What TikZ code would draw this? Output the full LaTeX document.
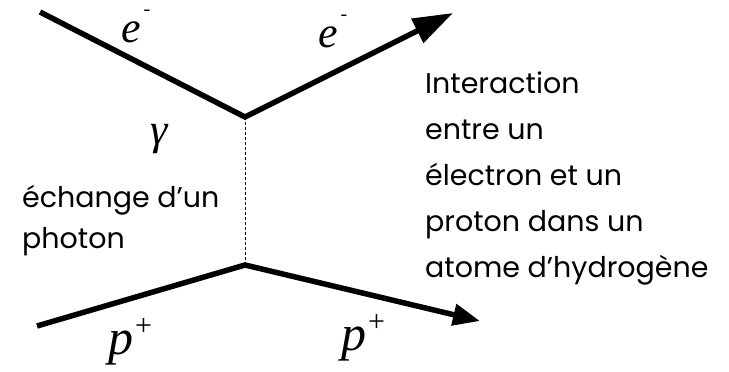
\documentclass[tikz,border=0pt]{standalone}
\usepackage{fontspec}
\setmainfont{Poppins}
\newfontfamily\serifit{Liberation Serif}
\usetikzlibrary{arrows.meta}
\tikzset{
  particle/.style={line width=5.5pt, line join=miter},
  photonline/.style={line width=0.9pt, dash pattern=on 3pt off 2pt},
  lbl/.style={font=\serifit\itshape\fontsize{44}{44}\selectfont, inner sep=0pt, anchor=base west},
  lblp/.style={font=\serifit\itshape\fontsize{50}{50}\selectfont, inner sep=0pt, anchor=base west},
  txt/.style={font=\fontsize{28.5}{46}\selectfont, align=left, inner sep=0pt, anchor=base west},
  txtl/.style={font=\fontsize{28.5}{41}\selectfont, align=left, inner sep=0pt, anchor=base west},
}
\newcommand{\supm}{\hspace{3pt}\raisebox{27pt}{\fontsize{20}{20}\selectfont\upshape -}}
\newcommand{\supp}{\hspace{2pt}\raisebox{19pt}{\fontsize{30}{30}\selectfont\upshape +}}
\begin{document}
\begin{tikzpicture}[x=1pt,y=-1pt]
\useasboundingbox (0,0) rectangle (729,372);
\coordinate (a) at (40,12);
\coordinate (v1) at (245,117);
\coordinate (b) at (453,13);
\coordinate (c) at (37,326);
\coordinate (v2) at (245,265);
\coordinate (d) at (480,321);
\draw[particle, -{Triangle[length=40pt,width=26pt]}] (a) -- (v1) -- (b);
\draw[particle, -{Triangle[length=27pt,width=21pt]}] (c) -- (v2) -- (d);
\draw[photonline] (v1) -- (v2);
\node[lbl] (e1) at (121,42) {e\supm};
\node[lbl] (e2) at (318,47) {e\supm};
\node[lbl] (g) at (150,144) {γ};
\node[lblp] (p1) at (108,354) {p\supp};
\node[lblp] (p2) at (341,350) {p\supp};
\node[txtl] (left) at (22,248) {échange d’un\\photon};
\node[txt] (right) at (425,277) {Interaction\\entre un\\électron et un\\proton dans un\\atome d’hydrogène};
\end{tikzpicture}
\end{document}
